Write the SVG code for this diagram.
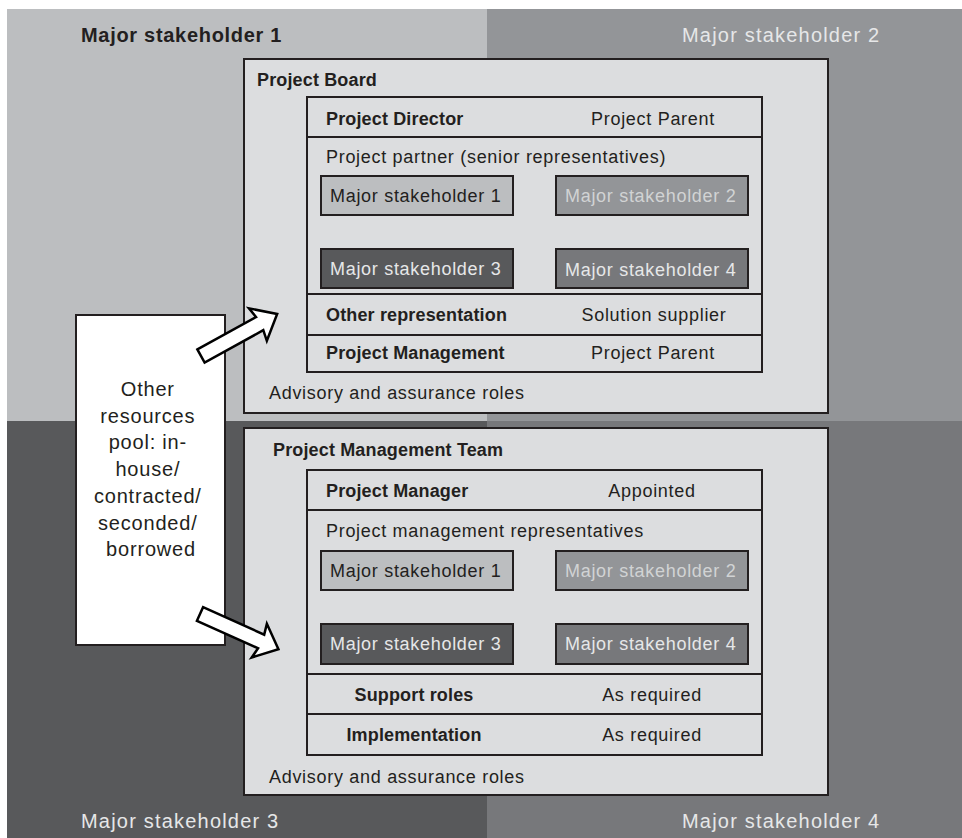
<svg xmlns="http://www.w3.org/2000/svg" width="962" height="838" viewBox="0 0 962 838">
<style>
text{font-family:"Liberation Sans",Arial,sans-serif;fill:#231f20}
.r{font-size:18px;letter-spacing:0.7px}
.b{font-size:18px;font-weight:bold;letter-spacing:0.15px}
.big{font-size:20px;letter-spacing:1.2px}
.bigb{font-size:20px;font-weight:bold;letter-spacing:0.7px}
.lt{fill:#e6e7e8}
.lt2{fill:#d1d3d4}
.mid{text-anchor:middle}
.panel{fill:#dcdddf;stroke:#231f20;stroke-width:2}
.tbl{fill:#dcdddf;stroke:#231f20;stroke-width:2}
.ln{stroke:#231f20;stroke-width:2}
.s1{fill:#bcbec0;stroke:#231f20;stroke-width:2}
.s2{fill:#939598;stroke:#231f20;stroke-width:2}
.s3{fill:#58595b;stroke:#231f20;stroke-width:2}
.s4{fill:#77787b;stroke:#231f20;stroke-width:2}
.arrow{fill:#fff;stroke:#000;stroke-width:2.5;stroke-linejoin:miter}
</style>
<defs>
<polygon id="arr" points="0,-7.5 67,-7.5 65,-18.5 L,0 65,18.5 67,7.5 0,7.5"/>
</defs>
<g id="background">
<rect x="7" y="9" width="480" height="412" fill="#bcbec0"/>
<rect x="487" y="9" width="475" height="412" fill="#939598"/>
<rect x="7" y="421" width="480" height="417" fill="#58595b"/>
<rect x="487" y="421" width="475" height="417" fill="#77787b"/>
<text class="bigb" x="81" y="42">Major stakeholder 1</text>
<text class="big lt" x="682" y="42">Major stakeholder 2</text>
<text class="big lt" x="81" y="828">Major stakeholder 3</text>
<text class="big lt" x="682" y="828">Major stakeholder 4</text>
</g>
<g id="project-board">
<rect class="panel" x="244" y="59" width="584" height="354"/>
<text class="b" x="257" y="86">Project Board</text>
<rect class="tbl" x="307" y="97" width="455" height="275"/>
<line class="ln" x1="307" y1="137" x2="762" y2="137"/>
<line class="ln" x1="307" y1="294" x2="762" y2="294"/>
<line class="ln" x1="307" y1="335" x2="762" y2="335"/>
<text class="b" x="326" y="125">Project Director</text>
<text class="r mid" x="653" y="125">Project Parent</text>
<text class="r" x="326" y="163">Project partner (senior representatives)</text>
<rect class="s1" x="321" y="176" width="192" height="39"/>
<text class="r" x="330" y="202">Major stakeholder 1</text>
<rect class="s2" x="556" y="176" width="192" height="39"/>
<text class="r lt2" x="565" y="202">Major stakeholder 2</text>
<rect class="s3" x="321" y="249" width="192" height="39"/>
<text class="r lt" x="330" y="275">Major stakeholder 3</text>
<rect class="s4" x="556" y="249" width="192" height="39"/>
<text class="r lt" x="565" y="276">Major stakeholder 4</text>
<text class="b" x="326" y="321">Other representation</text>
<text class="r mid" x="654" y="321">Solution supplier</text>
<text class="b" x="326" y="359">Project Management</text>
<text class="r mid" x="653" y="359">Project Parent</text>
<text class="r" x="269" y="399">Advisory and assurance roles</text>
</g>
<g id="project-management-team">
<rect class="panel" x="244" y="428" width="584" height="367"/>
<text class="b" x="273" y="456">Project Management Team</text>
<rect class="tbl" x="307" y="470" width="455" height="285"/>
<line class="ln" x1="307" y1="510" x2="762" y2="510"/>
<line class="ln" x1="307" y1="674" x2="762" y2="674"/>
<line class="ln" x1="307" y1="714" x2="762" y2="714"/>
<text class="b" x="326" y="497">Project Manager</text>
<text class="r mid" x="652" y="497">Appointed</text>
<text class="r" x="326" y="537">Project management representatives</text>
<rect class="s1" x="321" y="551" width="192" height="39"/>
<text class="r" x="330" y="577">Major stakeholder 1</text>
<rect class="s2" x="556" y="551" width="192" height="39"/>
<text class="r lt2" x="565" y="577">Major stakeholder 2</text>
<rect class="s3" x="321" y="624" width="192" height="40"/>
<text class="r lt" x="330" y="650">Major stakeholder 3</text>
<rect class="s4" x="556" y="624" width="192" height="40"/>
<text class="r lt" x="565" y="650">Major stakeholder 4</text>
<text class="b mid" x="414" y="701">Support roles</text>
<text class="r mid" x="652" y="701">As required</text>
<text class="b mid" x="414" y="741">Implementation</text>
<text class="r mid" x="652" y="741">As required</text>
<text class="r" x="269" y="783">Advisory and assurance roles</text>
</g>
<g id="resources-pool">
<rect x="76" y="315" width="149" height="330" fill="#fff" stroke="#231f20" stroke-width="2"/>
<text class="big mid" x="151" y="396" style="letter-spacing:0.8px">
<tspan x="151" y="396">Other</tspan>
<tspan x="151" y="422.7">resources</tspan>
<tspan x="151" y="449.4">pool: in-</tspan>
<tspan x="151" y="476.1">house/</tspan>
<tspan x="151" y="502.8">contracted/</tspan>
<tspan x="151" y="529.5">seconded/</tspan>
<tspan x="151" y="556.2">borrowed</tspan>
</text>
</g>
<g id="connectors">
<polygon class="arrow" transform="translate(201,356) rotate(-28.9)" points="0,-7.5 67,-7.5 65,-18.5 87,0 65,18.5 67,7.5 0,7.5"/>
<polygon class="arrow" transform="translate(200,614) rotate(24.2)" points="0,-7.5 67,-7.5 65,-18.5 86,0 65,18.5 67,7.5 0,7.5"/>
</g>
</svg>
